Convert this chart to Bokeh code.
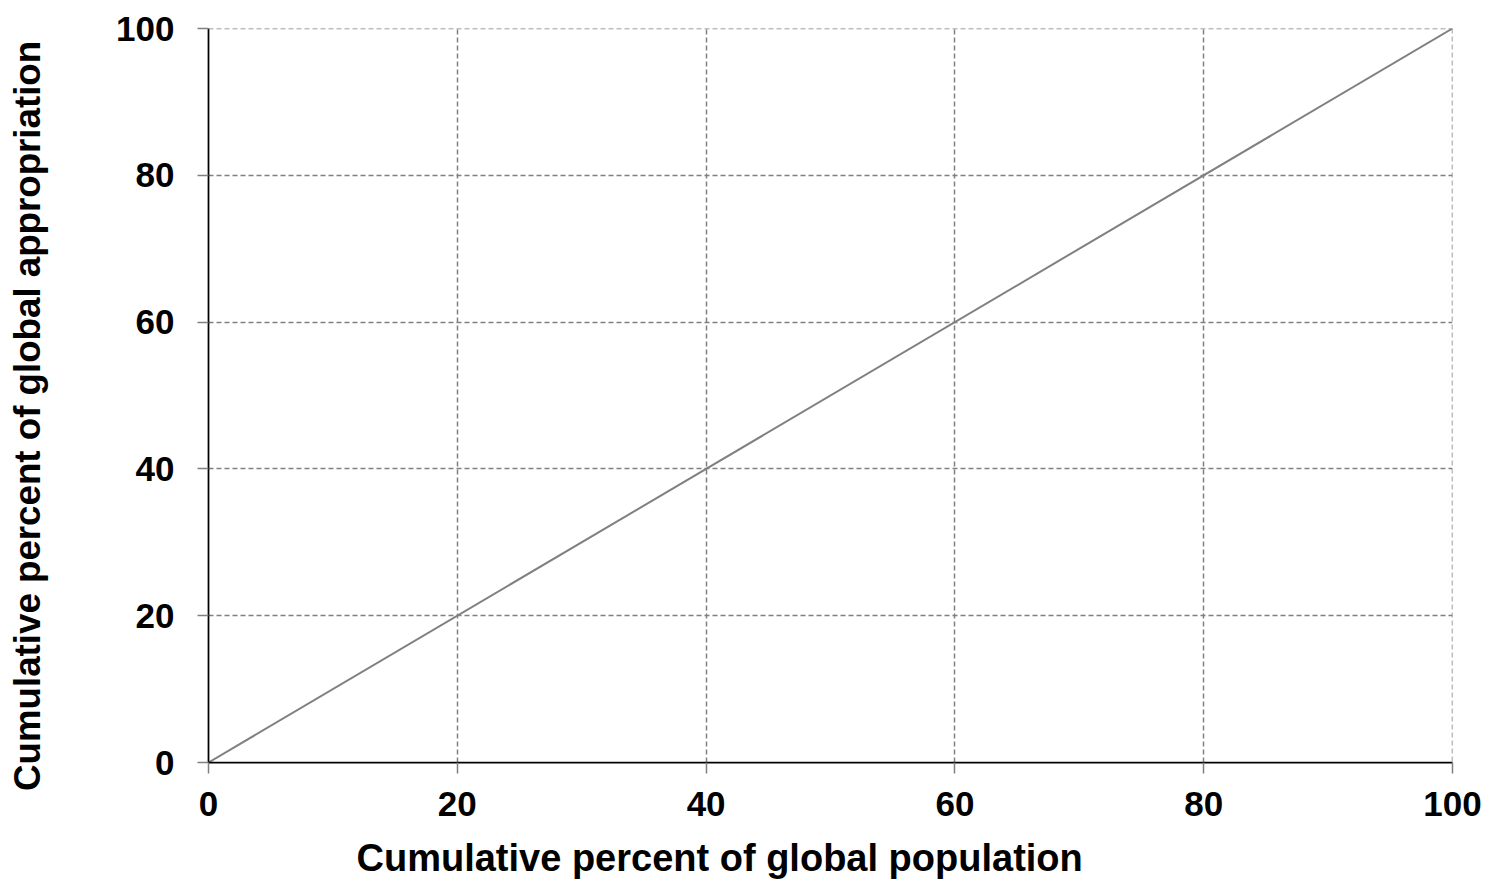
from bokeh.plotting import figure
from bokeh.models import Range1d, FixedTicker, Span
from bokeh.embed import file_html
from bokeh.resources import INLINE

# Data: line of equality (cumulative population vs cumulative appropriation)
population_pct = [0, 100]
appropriation_pct = [0, 100]
tick_values = [0, 20, 40, 60, 80, 100]
x_title = "Cumulative percent of global population"
y_title = "Cumulative percent of global appropriation"

FONT = "Liberation Sans"
FS = "35px"
GRID = "#808080"
NBSP = "\u00a0"

p = figure(width=1484, height=882, output_backend="svg", toolbar_location=None,
           x_range=Range1d(0, 100), y_range=Range1d(0, 100),
           min_border_left=208, min_border_right=32, min_border_top=28, min_border_bottom=120)
p.outline_line_color = None
p.background_fill_color = "white"

for g in (p.xgrid, p.ygrid):
    g.ticker = FixedTicker(ticks=tick_values)
    g.grid_line_color = GRID
    g.grid_line_dash = "5 3"
    g.grid_line_width = 1.5

# gridlines at the upper ends of both axes (top and right edges)
p.add_layout(Span(location=tick_values[-1], dimension="width", line_color=GRID,
                  line_dash="5 3", line_width=1.5))
p.add_layout(Span(location=tick_values[-1], dimension="height", line_color=GRID,
                  line_dash="5 3", line_width=1.5))

p.xaxis.ticker = FixedTicker(ticks=tick_values)
p.yaxis.ticker = FixedTicker(ticks=tick_values)

for ax in (p.xaxis, p.yaxis):
    ax.axis_line_color = "black"
    ax.axis_line_width = 1.75
    ax.major_tick_line_color = GRID
    ax.major_tick_line_width = 1.5
    ax.major_tick_out = 11
    ax.major_tick_in = 0
    ax.minor_tick_line_color = None
    ax.major_label_text_font = FONT
    ax.major_label_text_font_style = "bold"
    ax.major_label_text_font_size = FS
    ax.major_label_text_color = "black"
    ax.axis_label_text_font = FONT
    ax.axis_label_text_font_style = "bold"
    ax.axis_label_text_color = "black"

p.xaxis.major_label_standoff = 18
p.yaxis.major_label_standoff = 23

# trailing non-breaking spaces shift the centred titles to where the reference has them
p.xaxis.axis_label = x_title + NBSP * 21
p.xaxis.axis_label_text_font_size = "38px"
p.xaxis.axis_label_standoff = 18
p.yaxis.axis_label = y_title + NBSP * 4
p.yaxis.axis_label_text_font_size = "36.7px"
p.yaxis.axis_label_standoff = 65

p.line(population_pct, appropriation_pct, line_color="#808080", line_width=2)

open("out.html", "w").write(file_html(p, INLINE))
